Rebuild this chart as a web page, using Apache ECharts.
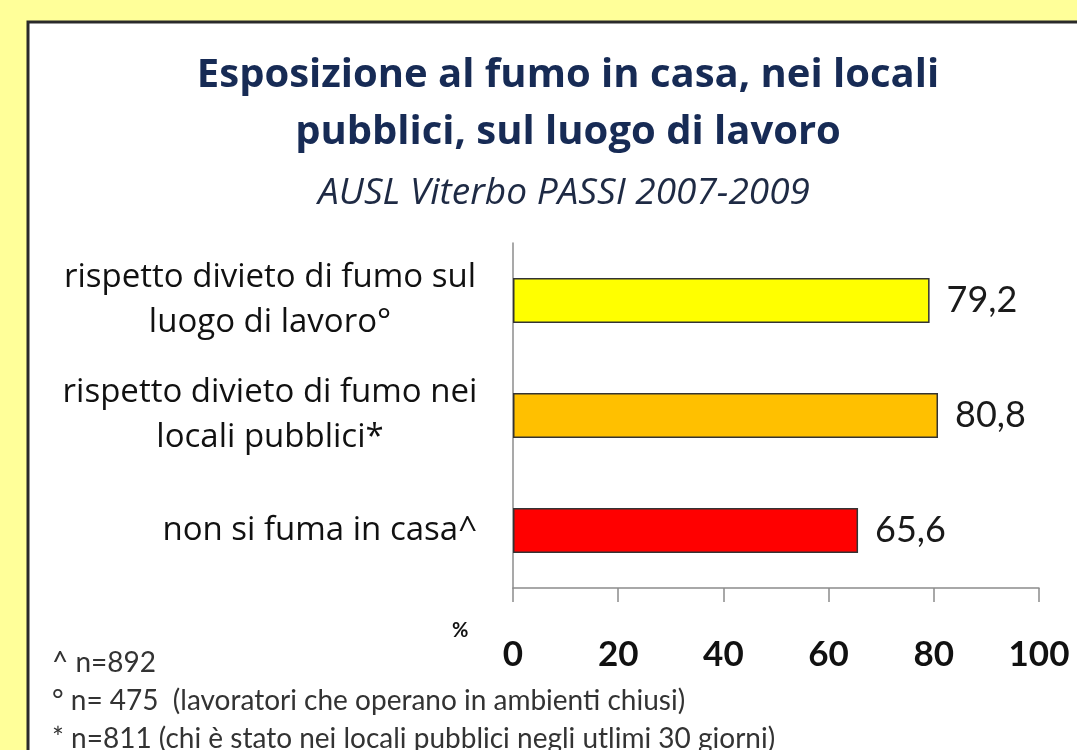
<!DOCTYPE html>
<html>
<head>
<meta charset="utf-8">
<script src="https://cdn.jsdelivr.net/npm/echarts@6/dist/echarts.min.js"></script>
<style>
html,body{margin:0;padding:0;background:#FFFF99;}
#chart{width:1077px;height:750px;}
</style>
</head>
<body>
<div id="chart"></div>
<script>
// ---- data ----
const categories = [
  'rispetto divieto di fumo sul\nluogo di lavoro°',
  'rispetto divieto di fumo nei\nlocali pubblici*',
  'non si fuma in casa^'
];
const values = [79.2, 80.8, 65.6];
const barColors = ['#FFFF00', '#FFC000', '#FF0000'];
const xTicks = [0, 20, 40, 60, 80, 100];
const titleText = 'Esposizione al fumo in casa, nei locali\npubblici, sul luogo di lavoro';
const subtitleText = 'AUSL Viterbo PASSI 2007-2009';
const footnotes = [
  '^ n=892',
  '° n= 475  (lavoratori che operano in ambienti chiusi)',
  '* n=811 (chi è stato nei locali pubblici negli utlimi 30 giorni)'
];
const axisUnit = '%';

const FONT = 'Lato, "Open Sans", sans-serif';
const FONT2 = '"Open Sans", Lato, sans-serif';
const chart = echarts.init(document.getElementById('chart'));

const option = {
  backgroundColor: '#FFFF99',
  animation: false,
  title: [
    {
      text: titleText,
      left: 563, top: 42, textAlign: 'center',
      textStyle: { fontFamily: FONT2, fontWeight: 'bold', fontSize: 40, lineHeight: 57, color: '#172B55' }
    },
    {
      text: subtitleText,
      left: 559, top: 167, textAlign: 'center',
      textStyle: { fontFamily: FONT2, fontStyle: 'italic', fontWeight: 'normal', fontSize: 37, lineHeight: 42, color: '#1E2A44' }
    }
  ],
  graphic: [
    { type: 'rect', z: -10, shape: { x: 28, y: 22, width: 1100, height: 800 },
      style: { fill: '#FFFFFF', stroke: '#2A2A2A', lineWidth: 3 } },
    { type: 'text', left: 452, top: 621,
      style: { text: axisUnit, font: 'bold 20px ' + FONT, fill: '#111' } },
    { type: 'text', left: 52, top: 649,
      style: { text: footnotes[0], font: '28px ' + FONT, fill: '#333' } },
    { type: 'text', left: 52, top: 687,
      style: { text: footnotes[1], font: '28px ' + FONT, fill: '#333' } },
    { type: 'text', left: 52, top: 725,
      style: { text: footnotes[2], font: '28px ' + FONT, fill: '#333' } }
  ],
  grid: { left: 513, right: 38, top: 243, bottom: 162, containLabel: false },
  xAxis: {
    type: 'value', min: 0, max: 100, interval: 20,
    axisLine: { show: true, lineStyle: { color: '#8C8C8C', width: 1.5 } },
    axisTick: { show: true, length: 14, lineStyle: { color: '#8C8C8C', width: 1.5 } },
    splitLine: { show: false },
    axisLabel: {
      margin: 49,
      fontFamily: FONT, fontWeight: 'bold', fontSize: 35, color: '#111',
      formatter: v => xTicks.includes(v) ? String(v) : ''
    }
  },
  yAxis: {
    type: 'category', data: categories, inverse: true,
    axisLine: { show: true, lineStyle: { color: '#8C8C8C', width: 1.5 } },
    axisTick: { show: false },
    axisLabel: {
      margin: 36,
      formatter: function (v) {
        const lines = v.split('\n');
        if (lines.length > 1) return lines.map(l => '{c|' + l + '}').join('\n');
        return '{r|' + v + '}';
      },
      rich: {
        c: { fontFamily: FONT2, fontSize: 33, lineHeight: 45, color: '#111', width: 414, align: 'center' },
        r: { fontFamily: FONT2, fontSize: 33, lineHeight: 45, color: '#111', align: 'right' }
      }
    }
  },
  series: [{
    type: 'bar',
    data: values.map((v, i) => ({ value: v, itemStyle: { color: barColors[i] } })),
    barWidth: '39%',
    itemStyle: { borderColor: '#333333', borderWidth: 1.5 },
    label: {
      show: true, position: 'right', distance: 17,
      fontFamily: FONT, fontSize: 36, color: '#1A1A1A',
      formatter: p => String(p.value).replace('.', ',')
    }
  }]
};
chart.setOption(option);
</script>
</body>
</html>
